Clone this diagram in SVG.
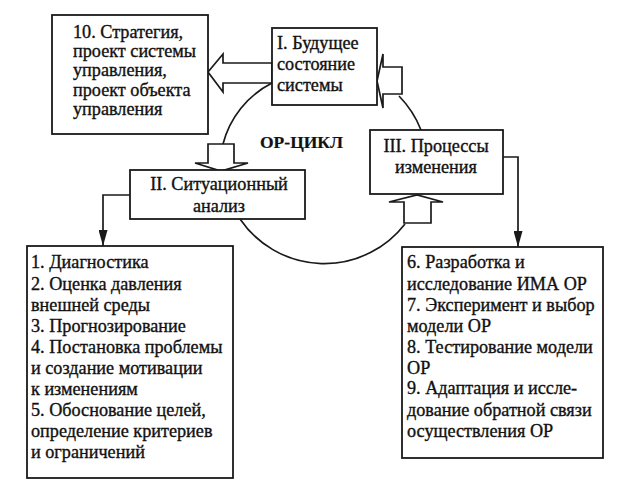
<svg xmlns="http://www.w3.org/2000/svg" width="635" height="493" viewBox="0 0 635 493">
<defs>
<style>
.box{fill:#fff;stroke:#1a1a1a;stroke-width:1.8}
.bar{fill:#fff;stroke:#1a1a1a;stroke-width:1.7;stroke-linejoin:miter}
.ln{fill:none;stroke:#1a1a1a;stroke-width:1.7}
text{font-family:'Liberation Serif',serif;font-size:18.2px;fill:#111;stroke:#111;stroke-width:0.35}
.c{text-anchor:middle}
.b{font-weight:bold;font-size:17.5px;stroke-width:0.2}
</style>
<marker id="ah" viewBox="0 0 16 9" refX="16" refY="4.5" markerWidth="16" markerHeight="9" markerUnits="userSpaceOnUse" orient="auto">
<path d="M0,0 L16,4.5 L0,9 z" fill="#1a1a1a"/>
</marker>
</defs>
<rect width="635" height="493" fill="#fff"/>
<g id="connectors">
<path class="ln" d="M272,83 A95,95 0 0 0 223,144"/>
<path class="ln" d="M240,219 A102,102 0 0 0 405,224"/>
<path class="ln" d="M421,130 A102,102 0 0 0 399,96"/>
<polygon class="bar" points="272,63 223,63 223,54 208,72 223,92 223,83 272,83"/>
<polygon class="bar" points="402,67 383,67 383,54 377,81 383,108 383,94 402,94"/>
<polygon class="bar" points="208,144 234,144 234,163 248,163 221,171 195,163 208,163"/>
<polygon class="bar" points="404,223 431,223 431,202 443,202 417,195 389,202 404,202"/>
<path class="ln" d="M130,195 H103 V246" marker-end="url(#ah)"/>
<path class="ln" d="M503,157 H518 V247" marker-end="url(#ah)"/>
</g>
<g id="node-10">
<rect class="box" x="52" y="15" width="156" height="119"/>
<text x="73" y="38">10. Стратегия,</text>
<text x="73" y="57">проект системы</text>
<text x="73" y="76">управления,</text>
<text x="73" y="96">проект объекта</text>
<text x="73" y="115">управления</text>
</g>
<g id="node-I">
<rect class="box" x="272" y="28" width="105" height="77"/>
<text x="277" y="49">I. Будущее</text>
<text x="277" y="70">состояние</text>
<text x="277" y="91">системы</text>
</g>
<g id="node-II">
<rect class="box" x="130" y="170" width="175" height="49"/>
<text class="c" x="219" y="190">II. Ситуационный</text>
<text class="c" x="219" y="212">анализ</text>
</g>
<g id="node-III">
<rect class="box" x="370" y="130" width="133" height="64"/>
<text class="c" x="436" y="152">III. Процессы</text>
<text class="c" x="436" y="173">изменения</text>
</g>
<g id="label-cycle">
<text class="b" x="260" y="148">ОР-ЦИКЛ</text>
</g>
<g id="node-1-5">
<rect class="box" x="27" y="246" width="206" height="232"/>
<text x="31" y="268">1. Диагностика</text>
<text x="31" y="290">2. Оценка давления</text>
<text x="31" y="311">внешней среды</text>
<text x="31" y="332">3. Прогнозирование</text>
<text x="31" y="353">4. Постановка проблемы</text>
<text x="31" y="374">и создание мотивации</text>
<text x="31" y="395">к изменениям</text>
<text x="31" y="416">5. Обоснование целей,</text>
<text x="31" y="437">определение критериев</text>
<text x="31" y="458">и ограничений</text>
</g>
<g id="node-6-9">
<rect class="box" x="402" y="247" width="201" height="211"/>
<text x="407" y="268">6. Разработка и</text>
<text x="407" y="290">исследование ИМА ОР</text>
<text x="407" y="311">7. Эксперимент и выбор</text>
<text x="407" y="332">модели ОР</text>
<text x="407" y="353">8. Тестирование модели</text>
<text x="407" y="374">ОР</text>
<text x="407" y="394">9. Адаптация и иссле-</text>
<text x="407" y="416">дование обратной связи</text>
<text x="407" y="437">осуществления ОР</text>
</g>
</svg>
